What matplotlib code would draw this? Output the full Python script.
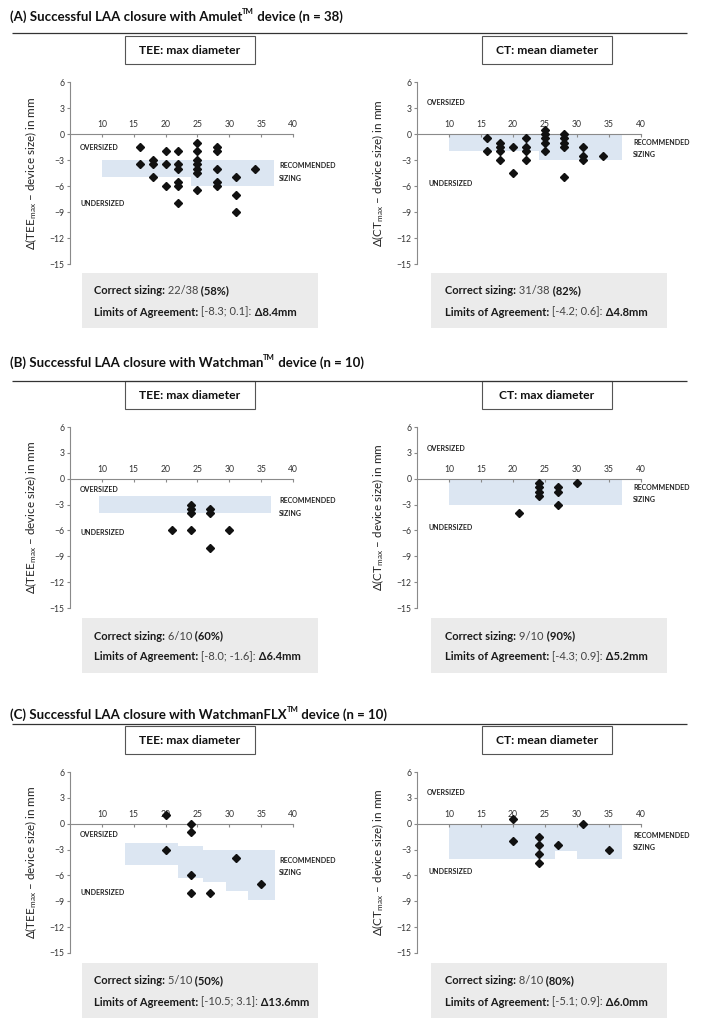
import matplotlib.pyplot as plt
from matplotlib.patches import Rectangle

plt.rcParams['font.family'] = ['Lato', 'DejaVu Sans']
plt.rcParams['mathtext.fontset'] = 'custom'
plt.rcParams['mathtext.rm'] = 'Lato'
plt.rcParams['mathtext.it'] = 'Lato:italic'
plt.rcParams['mathtext.bf'] = 'Lato:bold'

# ---- data (device size vs. delta in mm) ----
A_TEE_X = [16, 16, 18, 18, 18, 20, 20, 20, 22, 22, 22, 22, 22, 22,
           25, 25, 25, 25, 25, 25, 25, 28, 28, 28, 28, 28, 31, 31, 31, 34]
A_TEE_Y = [-1.5, -3.5, -3, -3.5, -5, -2, -3.5, -6, -2, -3.5, -4, -5.5, -6, -8,
           -1, -2, -3, -3.5, -4, -4.5, -6.5, -1.5, -2, -4, -5.5, -6, -5, -7, -9, -4]
A_CT_X = [16, 16, 18, 18, 18, 18, 20, 20, 22, 22, 22, 22,
          25, 25, 25, 25, 25, 28, 28, 28, 28, 28, 31, 31, 31, 34]
A_CT_Y = [-0.5, -2, -1, -1.5, -2, -3, -1.5, -4.5, -0.5, -1.5, -2, -3,
          0.5, 0, -0.5, -1, -2, 0, -0.5, -1, -1.5, -5, -1.5, -2.5, -3, -2.5]

B_TEE_X = [21, 24, 24, 24, 24, 27, 27, 27, 30]
B_TEE_Y = [-6, -3, -3.5, -4, -6, -3.5, -4, -8, -6]
B_CT_X = [21, 24, 24, 24, 24, 27, 27, 27, 30]
B_CT_Y = [-4, -0.5, -1, -1.5, -2, -1, -1.5, -3, -0.5]

C_TEE_X = [20, 20, 24, 24, 24, 24, 27, 31, 35]
C_TEE_Y = [1, -3, 0, -1, -6, -8, -8, -4, -7]
C_CT_X = [20, 20, 24, 24, 24, 24, 27, 31, 35]
C_CT_Y = [0.5, -2, -1.5, -2.5, -3.5, -4.5, -2.5, 0, -3]

# recommended sizing bands (step edges, lower, upper)
A_TEE_BAND_X = [10, 24, 37]
A_TEE_BAND_LO = [-5, -6, -6]
A_TEE_BAND_HI = [-3, -3, -3]
A_CT_BAND_X = [10, 24, 37]
A_CT_BAND_LO = [-2, -3, -3]
A_CT_BAND_HI = [0, 0, 0]
B_TEE_BAND_X = [9.6, 36.5]
B_TEE_BAND_LO = [-4, -4]
B_TEE_BAND_HI = [-2, -2]
B_CT_BAND_X = [10, 37]
B_CT_BAND_LO = [-3, -3]
B_CT_BAND_HI = [0, 0]
C_TEE_BAND_X = [13.6, 22, 25.8, 29.5, 33, 37.2]
C_TEE_BAND_LO = [-4.8, -6.3, -6.8, -7.8, -8.9, -8.9]
C_TEE_BAND_HI = [-2.2, -2.6, -3.1, -3.1, -3.1, -3.1]
C_CT_BAND_X = [10, 26.5, 30, 37]
C_CT_BAND_LO = [-4.1, -3.2, -4.1, -4.1]
C_CT_BAND_HI = [0, 0, 0, 0]

DEVICES = ['Amulet', 'Watchman', 'WatchmanFLX']
N = [38, 10, 10]
HEADERS = [('TEE: max diameter', 'CT: mean diameter'),
           ('TEE: max diameter', 'CT: max diameter'),
           ('TEE: max diameter', 'CT: mean diameter')]
SIZING = [('22/38', '58%', '31/38', '82%'),
          ('6/10', '60%', '9/10', '90%'),
          ('5/10', '50%', '8/10', '80%')]
LOA = [('[-8.3; 0.1]', '8.4', '[-4.2; 0.6]', '4.8'),
       ('[-8.0; -1.6]', '6.4', '[-4.3; 0.9]', '5.2'),
       ('[-10.5; 3.1]', '13.6', '[-5.1; 0.9]', '6.0')]

W, H = 708, 1028
BAND = '#dce6f2'
fig = plt.figure(figsize=(W / 100, H / 100), dpi=100)

ov = fig.add_axes([0, 0, 1, 1])
ov.set_xlim(0, W)
ov.set_ylim(H, 0)
ov.axis('off')


def px_axes(l, t, r, b):
    return fig.add_axes([l / W, 1 - b / H, (r - l) / W, (b - t) / H])


def chain(x, y, parts, size):
    t = None
    for s, bold, col in parts:
        kw = dict(fontsize=size, weight='bold' if bold else 'normal', color=col)
        if t is None:
            t = ov.text(x, y, s, va='center', ha='left', **kw)
        else:
            t = ov.annotate(s, xy=(1, 0), xycoords=t, va='bottom', ha='left', **kw)
    return t


def panel(ax, xs, ys, bx, blo, bhi, name, over, under, rec):
    ax.fill_between(bx, blo, bhi, step='post', color=BAND, lw=0, zorder=1)
    ax.plot(xs, ys, 'D', color='#111111', ms=3.7, zorder=3, clip_on=False)
    ax.set_xlim(5, 40)
    ax.set_ylim(-15, 6)
    ax.set_xticks(range(10, 41, 5))
    ax.set_yticks(range(-15, 7, 3))
    for s in ['top', 'right']:
        ax.spines[s].set_visible(False)
    ax.spines['bottom'].set_position(('data', 0))
    for s in ['bottom', 'left']:
        ax.spines[s].set_color('#8a8a8a')
        ax.spines[s].set_linewidth(0.8)
    ax.spines['bottom'].set_zorder(2)
    ax.tick_params(axis='x', direction='out', length=2, pad=-12,
                   labelsize=6.2, colors='#8a8a8a', labelcolor='#333333')
    ax.tick_params(axis='y', direction='out', length=2, pad=2,
                   labelsize=6.2, colors='#8a8a8a', labelcolor='#333333')
    ax.set_ylabel(r'$\Delta$(' + name + r'$_{\mathrm{max}}$ – device size) in mm',
                  fontsize=8.4, color='#222222')
    ax.yaxis.set_label_coords(-0.14, 0.5)
    lab = dict(fontsize=5.0, weight='bold', color='#222222', va='center', ha='left')
    ax.text(over[0], over[1], 'OVERSIZED', **lab)
    ax.text(under[0], under[1], 'UNDERSIZED', **lab)
    ax.text(rec[0], rec[1], 'RECOMMENDED\nSIZING', linespacing=1.9, **lab)


# rows: title y, rule y, header box top, axes top, axes bottom, stats box top
ROWS = [(17, 33, 36, 82, 264, 273),
        (363, 381, 381, 427, 608, 618),
        (715, 724, 726, 772, 953, 963)]

DATA = [
    (A_TEE_X, A_TEE_Y, A_TEE_BAND_X, A_TEE_BAND_LO, A_TEE_BAND_HI,
     A_CT_X, A_CT_Y, A_CT_BAND_X, A_CT_BAND_LO, A_CT_BAND_HI),
    (B_TEE_X, B_TEE_Y, B_TEE_BAND_X, B_TEE_BAND_LO, B_TEE_BAND_HI,
     B_CT_X, B_CT_Y, B_CT_BAND_X, B_CT_BAND_LO, B_CT_BAND_HI),
    (C_TEE_X, C_TEE_Y, C_TEE_BAND_X, C_TEE_BAND_LO, C_TEE_BAND_HI,
     C_CT_X, C_CT_Y, C_CT_BAND_X, C_CT_BAND_LO, C_CT_BAND_HI),
]
LEFT_LABELS = [((6.5, -1.5), (6.6, -8.0), (37.8, -4.4)),
               ((6.5, -1.25), (6.6, -6.2), (37.8, -3.3)),
               ((6.5, -1.25), (6.6, -8.0), (37.8, -4.95))]
RIGHT_LABELS = [((6.6, 3.6), (6.8, -5.7), (38.8, -1.7)),
                ((6.6, 3.5), (6.8, -5.7), (38.8, -1.7)),
                ((6.6, 3.6), (6.8, -5.6), (38.8, -2.05))]

letters = ['A', 'B', 'C']
for i, (ty, ry, hb, at, ab, sb) in enumerate(ROWS):
    # section title
    t1 = ov.text(10, ty, '(%s) Successful LAA closure with %s' % (letters[i], DEVICES[i]),
                 fontsize=9.5, weight='bold', va='center', color='#111111')
    tm = ov.annotate('TM', xy=(1, 0.62), xycoords=t1, fontsize=5.6, weight='bold',
                     va='bottom', color='#111111')
    ov.annotate(' device (n = %d)' % N[i], xy=(1, 0), xycoords=(tm, t1), fontsize=9.5,
                weight='bold', va='bottom', color='#111111')
    ov.hlines(ry, 12, 687, color='#333333', lw=0.9)

    d = DATA[i]
    for j, (l, r) in enumerate([(70, 293), (417, 641)]):
        # header box
        bl = 125 if j == 0 else 482
        ov.add_patch(Rectangle((bl, hb), 130, 28, facecolor='white',
                               edgecolor='#555555', lw=0.8))
        ov.text(bl + 65, hb + 14.5, HEADERS[i][j], fontsize=8.7, weight='bold',
                ha='center', va='center', color='#111111')

        ax = px_axes(l, at, r, ab)
        if j == 0:
            panel(ax, d[0], d[1], d[2], d[3], d[4], 'TEE', *LEFT_LABELS[i])
        else:
            panel(ax, d[5], d[6], d[7], d[8], d[9], 'CT', *RIGHT_LABELS[i])

        # stats box
        sl = 82 if j == 0 else 431
        ov.add_patch(Rectangle((sl, sb), 236, 55, facecolor='#ebebeb', lw=0))
        frac, pct = SIZING[i][2 * j], SIZING[i][2 * j + 1]
        rng, dlt = LOA[i][2 * j], LOA[i][2 * j + 1]
        tx = sl + (12 if j == 0 else 14)
        chain(tx, sb + 18, [('Correct sizing:', True, '#1a1a1a'),
                            (' ' + frac, False, '#444444'),
                            (' (' + pct + ')', True, '#1a1a1a')], 8.0)
        chain(tx, sb + 39, [('Limits of Agreement:', True, '#1a1a1a'),
                            (' ' + rng + ':', False, '#444444'),
                            (' \u0394' + dlt + 'mm', True, '#1a1a1a')], 8.0)

fig.savefig('out.png', dpi=100)
